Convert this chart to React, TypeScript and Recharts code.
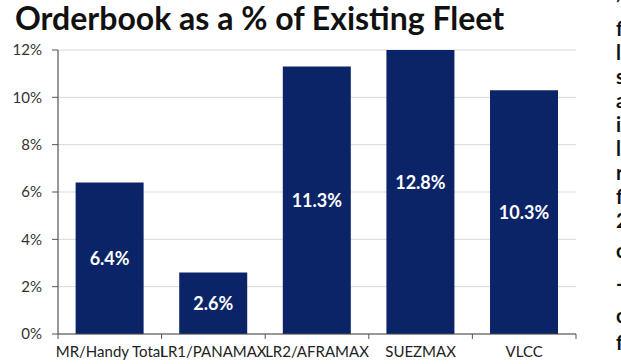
import React from 'react';
import { BarChart, Bar, XAxis, YAxis, CartesianGrid, LabelList } from 'recharts';

// Orderbook as a share of existing fleet, by tanker class
const categories = ['MR/Handy Total', 'LR1/PANAMAX', 'LR2/AFRAMAX', 'SUEZMAX', 'VLCC'];
const orderbookPct = [6.4, 2.6, 11.3, 12.8, 10.3];
const yTicks = [0, 2, 4, 6, 8, 10, 12];

// cut-off column of body text at the right edge of the slide
const sideLines = ['\u2019', 'f', 'l', 's', 'a', 'i', 'l', 'r', 'f', '2'];
const sideLines2 = ['c', '-', 'c', 'f'];
const sideLines2Height = [33, 33, 30, 24];

const data = categories.map((name, i) => ({ name, value: orderbookPct[i] }));

const NAVY = '#0b2468';
const FONT = 'Lato, "Open Sans", sans-serif';

// category tick: draws the boundary marks between bars plus the label
function BoundaryTick(props: any) {
  const { x, y, payload, index } = props;
  const half = payload?.offset ?? 0;
  return (
    <g>
      {index === 0 && (
        <line x1={x - half} y1={y} x2={x - half} y2={y + 5} stroke="#555" />
      )}
      <line x1={x + half} y1={y} x2={x + half} y2={y + 5} stroke="#555" />
      <text
        x={x}
        y={y + 23}
        textAnchor="middle"
        fill="#222"
        fontSize={15}
        fontFamily={FONT}
      >
        {payload.value}
      </text>
    </g>
  );
}

export default function App() {
  return (
    <div
      style={{
        position: 'absolute',
        left: 0,
        top: 0,
        width: 621,
        height: 364,
        background: '#fff',
        overflow: 'hidden',
        fontFamily: FONT,
      }}
    >
      <div
        style={{
          position: 'absolute',
          left: 15,
          top: 0,
          fontSize: 32,
          fontWeight: 700,
          color: '#111',
          lineHeight: '36px',
          whiteSpace: 'nowrap',
        }}
      >
        Orderbook as a % of Existing Fleet
      </div>

      <div
        style={{
          position: 'absolute',
          left: 616,
          top: -8,
          width: 5,
          overflow: 'hidden',
          fontSize: 20,
          fontWeight: 700,
          lineHeight: '24px',
          color: '#111',
        }}
      >
        {sideLines.map((t, i) => (
          <div key={i}>{t}</div>
        ))}
        <div style={{ height: 2 }} />
        {sideLines2.map((t, i) => (
          <div key={i} style={{ lineHeight: `${sideLines2Height[i]}px` }}>{t}</div>
        ))}
      </div>

      <div style={{ position: 'absolute', left: 0, top: 0 }}>
        <BarChart
          width={621}
          height={364}
          data={data}
          margin={{ top: 50, right: 45, bottom: 0, left: 0 }}
          barCategoryGap="17%"
        >
          <CartesianGrid vertical={false} stroke="#d9d9d9" />
          <XAxis
            dataKey="name"
            height={30}
            axisLine={{ stroke: '#444' }}
            tickLine={false}
            tickSize={0}
            tickMargin={0}
            interval={0}
            tick={<BoundaryTick />}
          />
          <YAxis
            width={58}
            domain={[0, 12]}
            ticks={yTicks}
            allowDataOverflow
            axisLine={{ stroke: '#333' }}
            tickLine={{ stroke: '#555' }}
            tickSize={6}
            tickMargin={10}
            tickFormatter={(v: number) => `${v}%`}
            tick={{ fill: '#333', fontSize: 15, fontFamily: FONT }}
          />
          <Bar dataKey="value" fill={NAVY} isAnimationActive={false}>
            <LabelList
              dataKey="value"
              position="center"
              formatter={(v: any) => `${Number(v).toFixed(1)}%`}
              fill="#fff"
              fontSize={18}
              fontWeight={700}
              fontFamily={FONT}
            />
          </Bar>
        </BarChart>
      </div>
    </div>
  );
}
